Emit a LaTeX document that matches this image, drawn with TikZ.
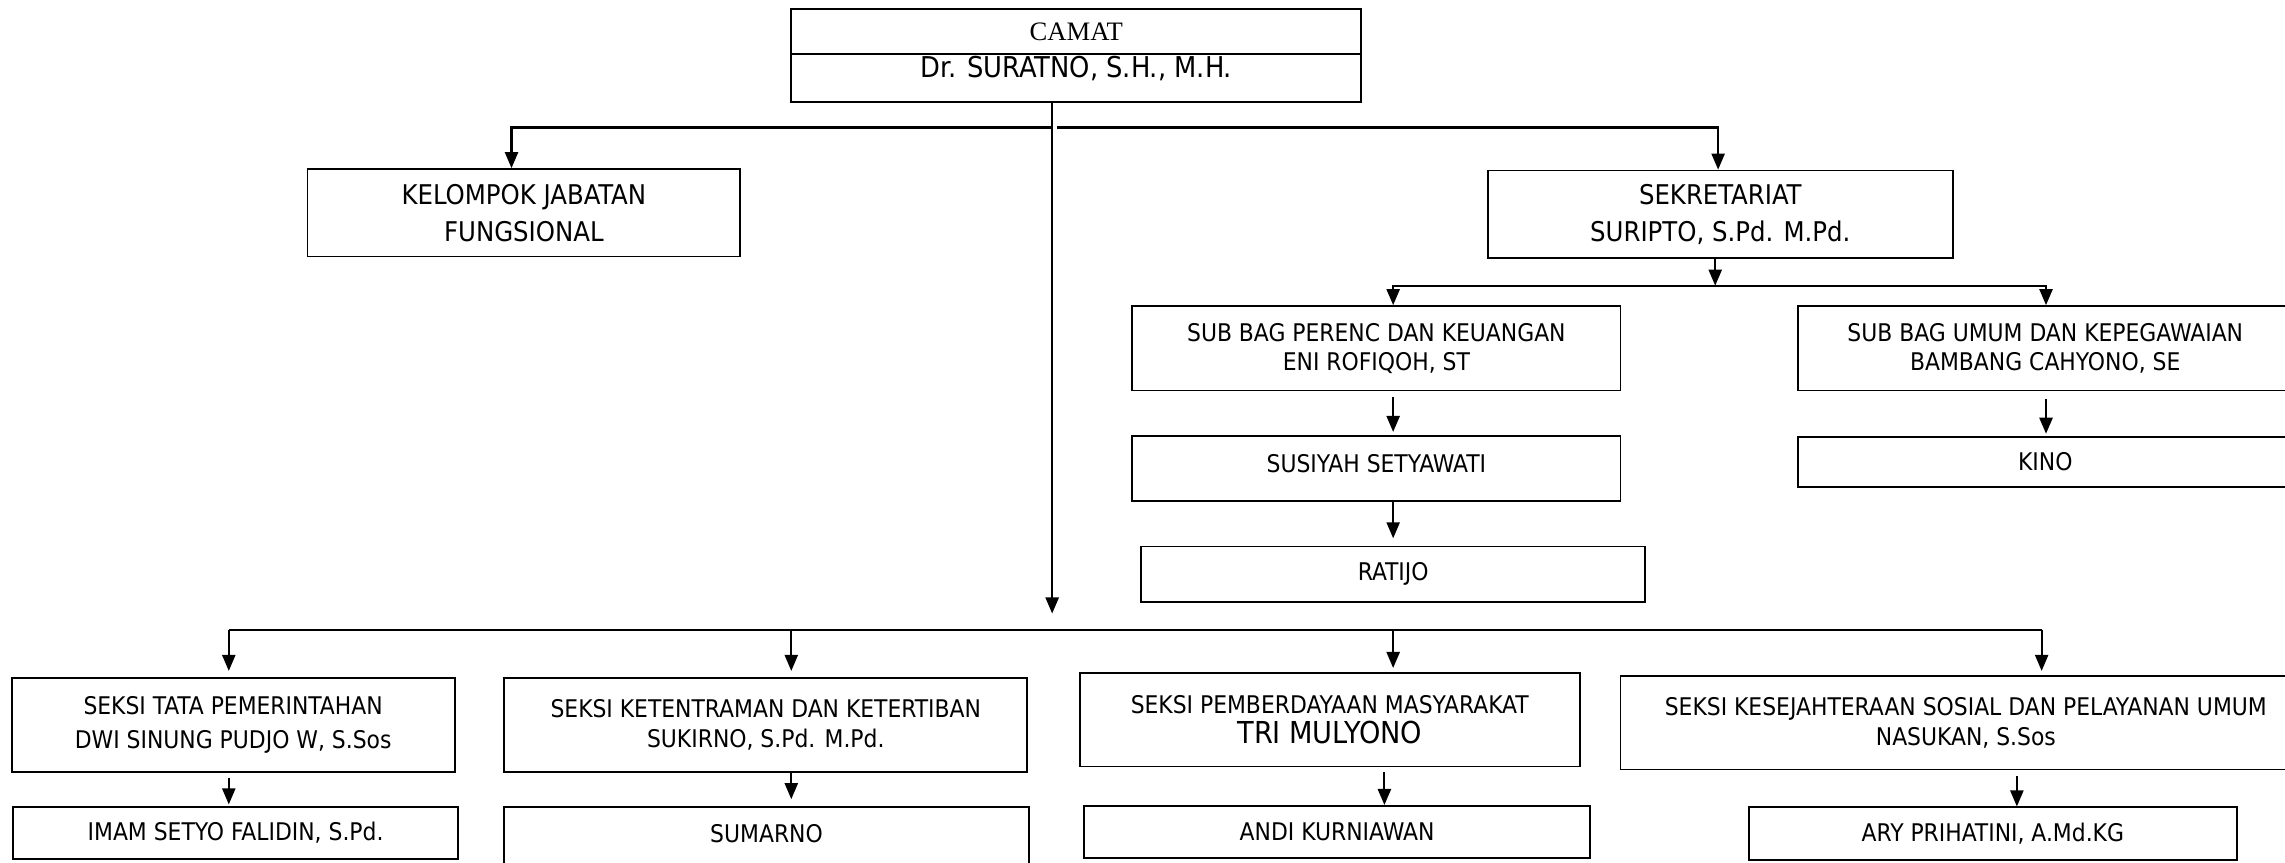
\documentclass[tikz,border=0pt]{standalone}
\usepackage{fontspec}
\setmainfont{DejaVu Sans Condensed}
\newfontfamily\serifcamat{Liberation Serif}
\usetikzlibrary{arrows.meta}
\tikzset{box/.style = {shape=rectangle,draw,line width=0.7pt,inner sep=0pt,align=center,font=\fontsize{9.5}{11.5}\selectfont}}
\tikzset{bigbox/.style = {box,font=\fontsize{10.6}{14.5}\selectfont}}
\tikzset{seksi/.style = {box,font=\fontsize{9.5}{13.5}\selectfont}}
\tikzset{edge/.style = {->,> = {Triangle[width=1.8mm,length=2.2mm]},line width=0.8pt}}

\begin{document}
\begin{tikzpicture}[x=0.2mm,y=-0.2mm]
  \useasboundingbox (0,0) rectangle (1568,592);

  % pimpinan
  \node[box,minimum width=78.2mm,minimum height=6.2mm,font=\serifcamat\fontsize{10.4}{12}\selectfont] (camat) at (738.5,21.5) {CAMAT};
  \node[box,minimum width=78.2mm,minimum height=6.6mm,inner ysep=0pt,text height=3.24mm,text depth=3.36mm,font=\fontsize{11.2}{13}\selectfont] (suratno) at (738.5,53.5) {Dr. SURATNO, S.H., M.H.};

  \node[bigbox,minimum width=59.4mm,minimum height=12mm] (kjf) at (359.5,146) {KELOMPOK JABATAN\\FUNGSIONAL};
  \node[bigbox,minimum width=63.8mm,minimum height=12mm] (sekr) at (1180.5,147) {SEKRETARIAT\\SURIPTO, S.Pd. M.Pd.};

  % sekretariat
  \node[box,minimum width=67mm,minimum height=11.6mm] (perenc) at (944.5,239) {SUB BAG PERENC DAN KEUANGAN\\ENI ROFIQOH, ST};
  \node[box,minimum width=67.8mm,minimum height=11.6mm] (umum) at (1403.5,239) {SUB BAG UMUM DAN KEPEGAWAIAN\\BAMBANG CAHYONO, SE};
  \node[box,minimum width=67mm,minimum height=9mm,inner ysep=0pt,text height=5mm,text depth=4mm] (susiyah) at (944.5,321.5) {SUSIYAH SETYAWATI};
  \node[box,minimum width=67.8mm,minimum height=6.9mm] (kino) at (1403.5,317) {KINO};
  \node[box,minimum width=69.2mm,minimum height=7.6mm] (ratijo) at (956,394) {RATIJO};

  % seksi
  \node[seksi,minimum width=60.8mm,minimum height=13mm] (tapem) at (160,497.5) {SEKSI TATA PEMERINTAHAN\\DWI SINUNG PUDJO W, S.Sos};
  \node[box,minimum width=71.8mm,minimum height=13mm] (trantib) at (525.5,497.5) {SEKSI KETENTRAMAN DAN KETERTIBAN\\SUKIRNO, S.Pd. M.Pd.};
  \node[box,minimum width=68.6mm,minimum height=12.8mm] (pmd) at (912.5,494) {SEKSI PEMBERDAYAAN MASYARAKAT\\{\fontsize{11.8}{14}\selectfont TRI MULYONO}};
  \node[box,minimum width=94.8mm,minimum height=12.8mm] (kesos) at (1349,496) {SEKSI KESEJAHTERAAN SOSIAL DAN PELAYANAN UMUM\\NASUKAN, S.Sos};

  \node[box,minimum width=61.1mm,minimum height=7.2mm] (imam) at (161.7,571.6) {IMAM SETYO FALIDIN, S.Pd.};
  \node[box,minimum width=72mm,minimum height=9.2mm,inner ysep=0pt,text height=4.8mm,text depth=4.4mm] (sumarno) at (526,577) {SUMARNO};
  \node[box,minimum width=69.4mm,minimum height=7.2mm] (andi) at (917.5,571) {ANDI KURNIAWAN};
  \node[box,minimum width=67mm,minimum height=7.2mm] (ary) at (1367.5,572) {ARY PRIHATINI, A.Md.KG};

  % garis komando
  \coordinate (fork) at (722,87.5);
  \coordinate (trunk) at (722,421);
  \coordinate (k1) at (351,87.5);
  \coordinate (k2) at (1179,87.5);
  \draw[edge] (fork |- suratno.south) -- (trunk);
  \draw[edge] (fork) -- (k1) -- (k1 |- kjf.north);
  \draw[edge] ([xshift=0.6mm]fork) -- (k2) -- (k2 |- sekr.north);

  \coordinate (b0) at (1177,196);
  \coordinate (b1) at (956,196);
  \coordinate (b2) at (1404,196);
  \draw[edge] (b0 |- sekr.south) -- (b0);
  \draw[edge] (b0) -- (b1) -- (b1 |- perenc.north);
  \draw[edge] (b0) -- (b2) -- (b2 |- umum.north);
  \draw[edge,shorten <=0.8mm,shorten >=0.4mm] (b1 |- perenc.south) -- (b1 |- susiyah.north);
  \draw[edge,shorten >=1mm] (b1 |- susiyah.south) -- (b1 |- ratijo.north);
  \draw[edge,shorten <=1mm,shorten >=0.3mm] (b2 |- umum.south) -- (b2 |- kino.north);

  \coordinate (s1) at (157,432);
  \coordinate (s2) at (543,432);
  \coordinate (s3) at (956,432);
  \coordinate (s4) at (1401,432);
  \coordinate (c3) at (950,432);
  \coordinate (c4) at (1384,432);
  \draw[line width=0.8pt] (s1) -- (s4);
  \draw[edge,shorten >=0.8mm] (s1) -- (s1 |- tapem.north);
  \draw[edge,shorten >=0.8mm] (s2) -- (s2 |- trantib.north);
  \draw[edge,shorten >=0.6mm] (s3) -- (s3 |- pmd.north);
  \draw[edge,shorten >=0.6mm] (s4) -- (s4 |- kesos.north);
  \draw[edge,shorten <=0.6mm,shorten >=0.2mm] (s1 |- tapem.south) -- (s1 |- imam.north);
  \draw[edge,shorten >=1mm] (s2 |- trantib.south) -- (s2 |- sumarno.north);
  \draw[edge,shorten <=0.6mm] (c3 |- pmd.south) -- (c3 |- andi.north);
  \draw[edge,shorten <=0.8mm] (c4 |- kesos.south) -- (c4 |- ary.north);
\end{tikzpicture}
\end{document}
